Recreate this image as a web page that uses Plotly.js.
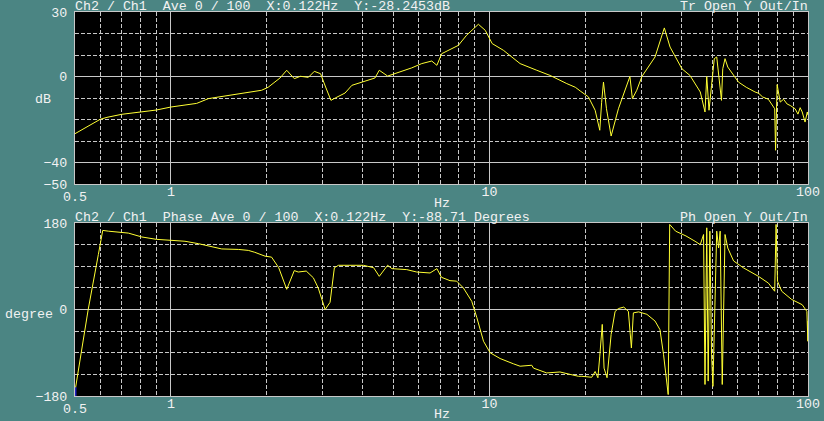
<!DOCTYPE html>
<html>
<head>
<meta charset="utf-8">
<script src="https://cdn.plot.ly/plotly-3.0.1.min.js"></script>
<style>
  html, body { margin: 0; padding: 0; background: #4b8583; }
  #chart { width: 824px; height: 421px; }
</style>
</head>
<body>
<div id="chart"></div>
<script>
// ---- Data ----
const magFreq = [0.5,0.6,0.63,0.7,0.9,1.0,1.205,1.311,1.375,1.927,2.02,2.2,2.31,2.44,2.55,2.70,2.82,2.95,3.06,3.18,3.28,3.52,3.70,4.37,4.51,4.79,5.70,6.13,6.59,6.84,7.08,7.35,7.99,8.48,9.23,9.7,10.2,11.06,11.75,12.48,14.08,15.50,17.49,18.6,19.26,20.45,21.47,22.2,22.5,22.8,23.3,24.1,25.4,26.7,27.6,28.1,29.0,30.1,33.1,35.4,36.9,40.2,42.6,45.9,47.5,48.1,48.9,49.8,50.8,51.7,52.3,53.5,54.0,54.9,56.0,60.5,64,66,68.2,70,72,75.1,78.6,79.1,80.0,81.8,83.8,86,88,91.1,93,94.5,95.9,97.9,99.5,100];
const magDb   = [-26.6,-19.9,-19.0,-17.6,-15.6,-14.2,-12.5,-10.3,-9.8,-6.4,-5.0,-0.7,2.9,-1.0,0.1,-0.4,2.4,1.3,-4.9,-11.1,-10.0,-7.7,-4.1,-0.7,2.9,0.2,4.0,6.0,7.2,5.2,10.6,11.7,14.5,19.2,24.3,21.5,15.3,12.2,9.1,6.0,2.9,0.5,-3.3,-5.0,-6.7,-9.5,-15.7,-25.0,-12.0,-2.6,-15.0,-27.7,-15.0,-5.7,0.0,-10.3,-6.4,0.0,9.1,22.6,13.7,3.6,0.5,-7.2,-16.5,0.0,-15.7,-4.1,8.3,9.1,2.9,-11.1,3.6,8.3,4.4,-2.6,-5.0,-6.2,-7.2,-7.8,-9.5,-10.6,-15.0,-34.3,-3.8,-11.9,-10.6,-12.8,-13.5,-15.0,-17.5,-14.5,-16.5,-21.2,-16.5,-18.0];

const phaseFreq = [0.5,0.55,0.592,0.611,0.636,0.7,0.735,0.81,0.9,1.0,1.107,1.22,1.344,1.444,1.628,1.75,1.834,1.975,2.07,2.18,2.31,2.44,2.51,2.66,2.80,2.90,3.05,3.16,3.26,3.36,4.02,4.33,4.51,4.79,4.94,5.50,5.91,6.51,6.84,7.07,7.52,7.89,8.28,8.80,9.13,9.58,10.05,10.80,11.89,12.48,13.58,13.75,15.13,16.65,17.91,19.03,19.5,20.95,21.47,21.9,22.2,22.6,22.9,23.4,24.1,24.8,25.4,26.4,27.3,27.9,28.3,29.4,31.2,33.1,34.3,35.2,36.4,36.8,38.4,41.4,44.2,45.9,47.0,47.5,48.1,48.6,49.2,49.8,50.3,51.7,52.4,53.0,53.8,54.9,56.0,58.4,62.6,69.9,75.1,78.6,79.4,80.2,82.7,88.8,95.9,99.2,99.9,100];
const phaseDeg  = [-170,0,114.6,164.6,163,161,159,151,146,144,142,137,130,126,125,123,119,111,109,87,42,81,78,80,66,45,0,15,87,92,92,87,69,92,85,83,78,76,85,67,60,59,45,17,-17,-66,-90,-102,-113,-118,-116,-122,-132,-130,-135,-139,-139,-141,-129,-142,-97,-31,-122,-142,-52,-4,2,5,-4,-80,-7,-5,-10,-24,-42,-94,-177,177,163,153,142,135,156,-156,170,-149,163,-94,-160,163,128,163,-156,156,128,101,87,69,55,38,177,59,38,21,10,-4,-66,-24];

// cursor marker at the left edge of the phase panel
const cursorFreq = [0.5, 0.5];
const cursorDeg  = [-180, -162];

// axis ticks / labels
const xTickVals = [1, 10, 100];
const xTickText = ['1', '10', '100'];
const xMinorVals = [0.6,0.7,0.8,0.9,2,3,4,5,6,7,8,9,20,30,40,50,60,70,80,90];
const magTickVals = [30, 0, -40, -50];
const magMinorVals = [20, 10, -10, -20, -30];
const phaseTickVals = [180, 0, -180];
const phaseMinorVals = [135, 90, 45, -45, -90, -135];

const topHeader = 'Ch2 / Ch1  Ave 0 / 100  X:0.122Hz  Y:-28.2453dB';
const topRight = 'Tr Open Y Out/In';
const botHeader = 'Ch2 / Ch1  Phase Ave 0 / 100  X:0.122Hz  Y:-88.71 Degrees';
const botRight = 'Ph Open Y Out/In';

// ---- Styling ----
const W = 824, H = 421;
const FONT = 'Liberation Mono, DejaVu Sans Mono, monospace';
const TXT = '#f2f2f2';
const GRID = '#c8c8c8';
const LINE = '#ffff33';
const fnt = {family: FONT, size: 13.3, color: TXT};
const nb = s => s.replace(/ /g, '\u00a0');
const px = v => v / W;
const py = v => (H - v) / H;

const xDomain = [px(75), px(808)];
const topDomain = [py(184), py(12)];
const botDomain = [py(396), py(223)];

function xAxis(anchor) {
  return {
    type: 'log', range: [Math.log10(0.5), 2], domain: xDomain, anchor: anchor,
    tickmode: 'array', tickvals: xTickVals, ticktext: xTickText,
    ticks: '', tickfont: fnt, ticklabelstandoff: -5,
    showgrid: true, gridcolor: GRID, gridwidth: 1,
    minor: {tickmode: 'array', tickvals: xMinorVals, showgrid: true, gridcolor: GRID, gridwidth: 1, griddash: '4px,2px', ticks: ''},
    showline: true, mirror: true, linecolor: GRID, linewidth: 1,
    zeroline: false, automargin: false, fixedrange: true
  };
}
function yAxis(anchor, domain, range, tv, mv) {
  return {
    range: range, domain: domain, anchor: anchor,
    tickmode: 'array', tickvals: tv, ticktext: tv.map(v => String(v).replace('-', '\u2212')),
    ticks: '', tickfont: fnt, ticklabelstandoff: 4,
    showgrid: true, gridcolor: GRID, gridwidth: 1,
    minor: {tickmode: 'array', tickvals: mv, showgrid: true, gridcolor: GRID, gridwidth: 1, griddash: '4px,2px', ticks: ''},
    showline: true, mirror: true, linecolor: GRID, linewidth: 1,
    zeroline: false, automargin: false, fixedrange: true
  };
}

const traces = [
  {x: magFreq, y: magDb, xaxis: 'x', yaxis: 'y', type: 'scatter', mode: 'lines',
   line: {color: LINE, width: 1}, hoverinfo: 'skip'},
  {x: phaseFreq, y: phaseDeg, xaxis: 'x2', yaxis: 'y2', type: 'scatter', mode: 'lines',
   line: {color: LINE, width: 1}, hoverinfo: 'skip'},
  {x: cursorFreq, y: cursorDeg, xaxis: 'x2', yaxis: 'y2', type: 'scatter', mode: 'lines',
   line: {color: '#2020c0', width: 3}, hoverinfo: 'skip'}
];

function ann(text, x, y, xanchor, xref, h) {
  const a = {text: nb(text), x: x, y: y, xref: xref || 'paper', yref: 'paper',
          xanchor: xanchor, yanchor: 'middle', showarrow: false, font: fnt, borderpad: 0};
  if (h) a.height = h;
  return a;
}

const layout = {
  width: W, height: H,
  margin: {l: 0, r: 0, t: 0, b: 0},
  paper_bgcolor: '#4b8583', plot_bgcolor: '#000000',
  showlegend: false, hovermode: false,
  xaxis: xAxis('y'),
  yaxis: yAxis('x', topDomain, [-50, 30], magTickVals, magMinorVals),
  xaxis2: xAxis('y2'),
  yaxis2: yAxis('x2', botDomain, [-180, 180], phaseTickVals, phaseMinorVals),
  annotations: [
    ann(topHeader, px(74), py(6), 'left'),
    ann(topRight, px(809), py(6), 'right'),
    ann(botHeader, px(74), py(216.5), 'left', null, 14),
    ann(botRight, px(809), py(216.5), 'right', null, 14),
    ann('dB', px(42.5), py(99), 'center'),
    ann('degree', px(29), py(314), 'center'),
    ann('0.5', Math.log10(0.5), py(197), 'center', 'x'),
    ann('0.5', Math.log10(0.5), py(409), 'center', 'x2'),
    ann('Hz', px(441.5), py(203.5), 'center', null, 12),
    ann('Hz', px(441.5), py(414), 'center', null, 12)
  ]
};

Plotly.newPlot('chart', traces, layout, {staticPlot: true, displayModeBar: false});
</script>
</body>
</html>
